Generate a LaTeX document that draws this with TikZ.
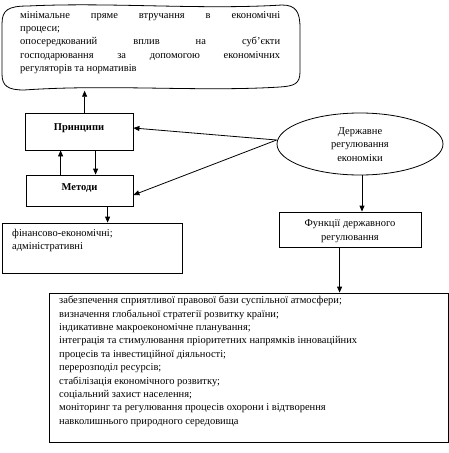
\documentclass[tikz,border=0pt]{standalone}
\usepackage{fontspec}
\setmainfont{Liberation Serif}
\usetikzlibrary{arrows.meta,shapes.geometric,calc}
\tikzset{
  box/.style={draw, line width=0.8pt, inner sep=0pt},
  arr/.style={line width=0.8pt, -{Triangle[length=6pt,width=5pt]}},
  txt/.style={inner sep=0pt, font=\fontsize{10.5}{13.4}\selectfont},
}
\begin{document}
\begin{tikzpicture}[x=1pt,y=-1pt]
\useasboundingbox (0,0) rectangle (449,453);
% top wavy rounded box
\node[inner sep=0pt, minimum width=298pt, minimum height=85pt] (topbox) at (151,48) {};
\draw[line width=0.8pt] (2,24) .. controls (2,10) and (8,6) .. (28,6)
  .. controls (110,2) and (200,10) .. (282,5)
  .. controls (296,5) and (300,12) .. (300,28)
  -- (300,72)
  .. controls (300,84) and (294,86) .. (280,87)
  .. controls (200,92) and (110,84) .. (24,90)
  .. controls (8,90) and (2,86) .. (2,74) -- cycle;
\node[txt, anchor=north west, align=left] (toptext) at (20,11) {%
\makebox[260pt][s]{мінімальне пряме втручання в економічні}\\
процеси;\\
\makebox[260pt][s]{опосередкований вплив на суб’єкти}\\
\makebox[260pt][s]{господарювання за допомогою економічних}\\
регуляторів та нормативів};
% boxes
\node[box, minimum width=108pt, minimum height=37pt] (P) at (79,131.5) {};
\node[txt, font=\fontsize{10.5}{13}\selectfont\bfseries] at (79,128) {Принципи};
\node[box, minimum width=107pt, minimum height=31pt] (M) at (79.5,190.5) {};
\node[txt, font=\fontsize{10.5}{13}\selectfont\bfseries] at (79.5,188) {Методи};
\node[draw, line width=0.8pt, ellipse, inner sep=0pt, minimum width=166pt, minimum height=62pt] (E) at (360,144) {};
\node[txt, align=center] at (360,144.5) {Державне\\регулювання\\економіки};
\node[box, minimum width=142pt, minimum height=35pt] (F) at (350,229.5) {};
\node[txt, align=center] at (350,231) {Функції державного\\регулювання};
\node[box, minimum width=180pt, minimum height=50pt] (FIN) at (92,248) {};
\node[txt, anchor=north west, align=left] at (12,229) {фінансово-економічні;\\адміністративні};
\node[box, minimum width=399pt, minimum height=149pt] (B) at (248.5,367.5) {};
\node[txt, anchor=north west, align=left] at (59,296) {%
забезпечення сприятливої правової бази суспільної атмосфери;\\
визначення глобальної стратегії розвитку країни;\\
індикативне макроекономічне планування;\\
інтеграція та стимулювання пріоритетних напрямків інноваційних\\
процесів та інвестиційної діяльності;\\
перерозподіл ресурсів;\\
стабілізація економічного розвитку;\\
соціальний захист населення;\\
моніторинг та регулювання процесів охорони і відтворення\\
навколишнього природного середовища};
% connectors
\draw[arr] ([xshift=60pt]P.north west) -- ([xshift=60pt]P.north west |- topbox.south);
\draw[arr] ([xshift=35pt]M.north west) -- ([xshift=35pt]M.north west |- P.south);
\draw[arr] ([xshift=71pt]P.south west) -- ([xshift=71pt]P.south west |- M.north);
\draw[arr] ([yshift=4pt]E.west) -- ([yshift=3.5pt]P.east);
\draw[arr] ([yshift=4pt]E.west) -- ([yshift=-4.5pt]M.east);
\draw[arr] ([xshift=2pt]E.south) -- ([xshift=2pt]E.south |- F.north);
\draw[arr] ([xshift=82pt]M.south west) -- ([xshift=82pt]M.south west |- FIN.north);
\draw[arr] ([xshift=61pt]F.south west) -- ([xshift=61pt]F.south west |- B.north);
\end{tikzpicture}
\end{document}
